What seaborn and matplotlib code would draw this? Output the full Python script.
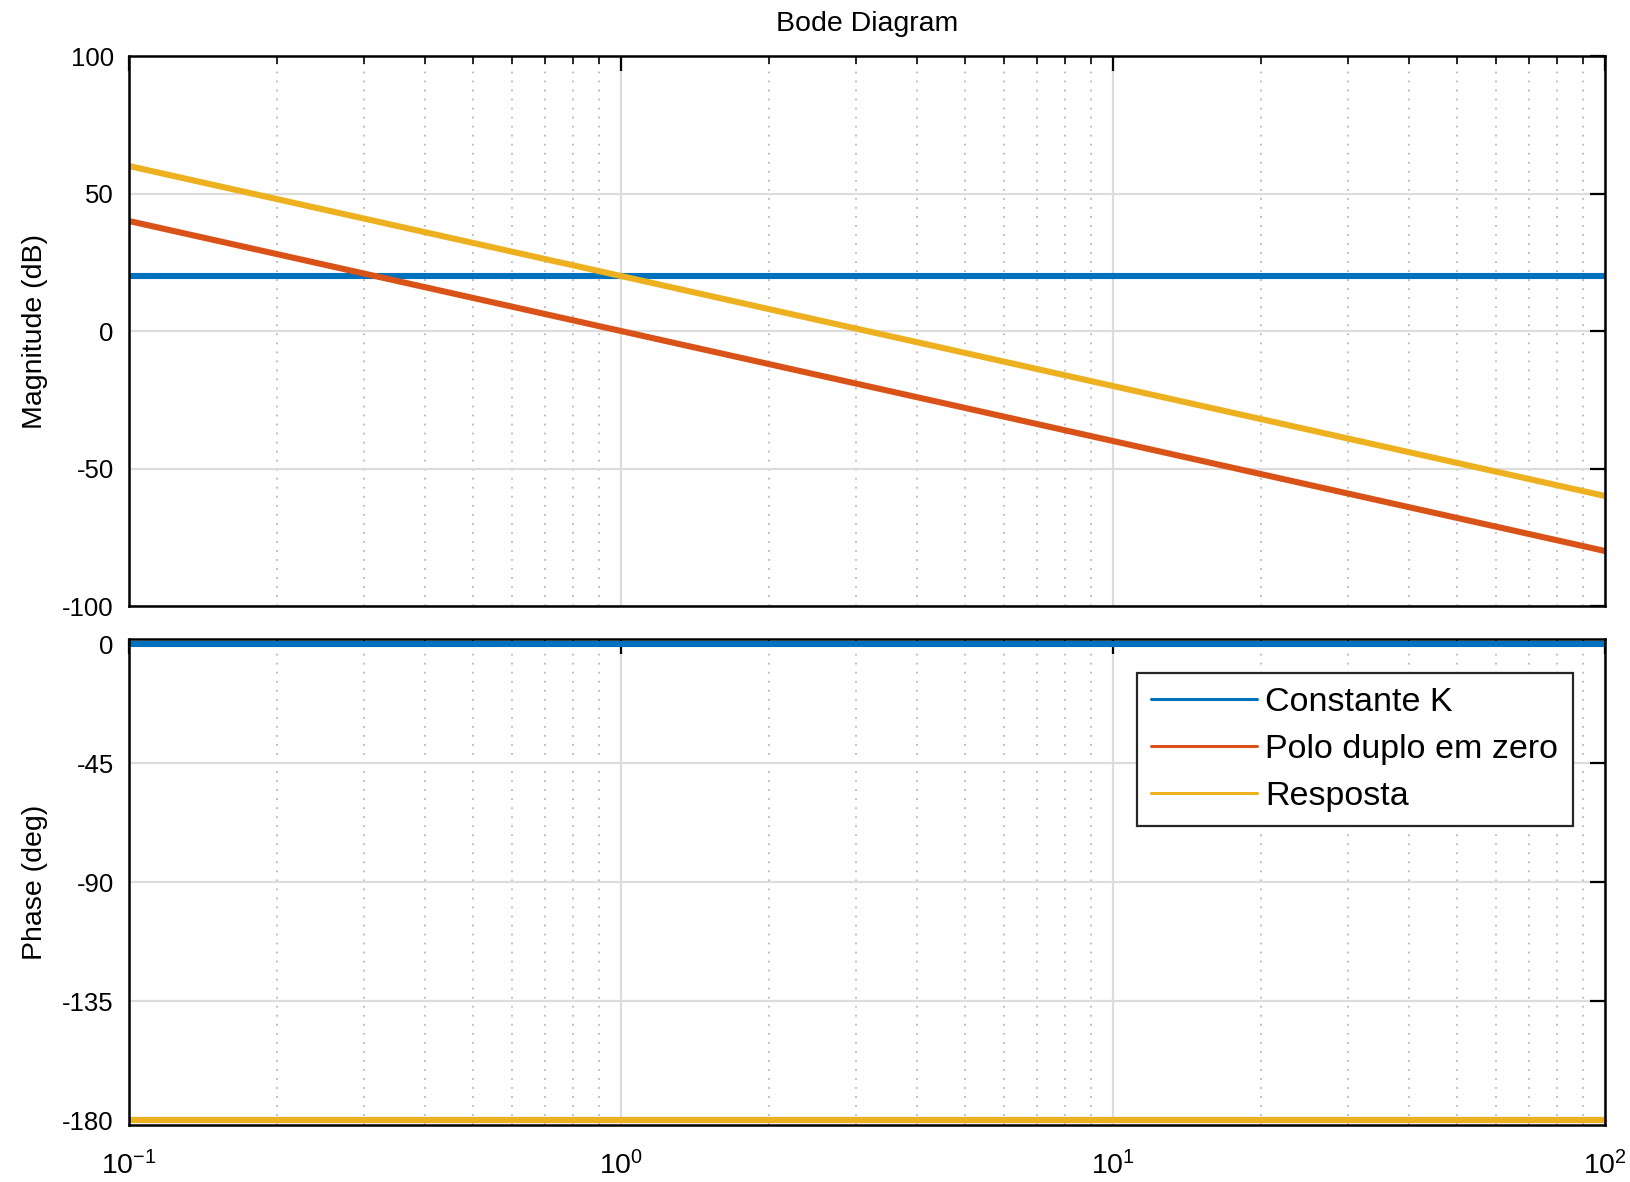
import numpy as np
import pandas as pd
import matplotlib
matplotlib.use("Agg")
import matplotlib.pyplot as plt
import matplotlib.ticker as mticker
import seaborn as sns

# ---- data ----
freq = [0.1, 1, 10, 100]                       # rad/s
series_names = ["Constante K", "Polo duplo em zero", "Resposta"]
mag_K = [20, 20, 20, 20]                       # dB
mag_polo = [40, 0, -40, -80]                   # dB
mag_resp = [60, 20, -20, -60]                  # dB
phase_K = [0, 0, 0, 0]                         # deg
phase_polo = [-180, -180, -180, -180]          # deg
phase_resp = [-180, -180, -180, -180]          # deg
colors = ["#0072BD", "#D95319", "#EDB120"]
mag_ticks = [-100, -50, 0, 50, 100]
phase_ticks = [-180, -135, -90, -45, 0]

sns.set_style("white")
plt.rcParams["font.family"] = ["Liberation Sans", "DejaVu Sans"]
plt.rcParams["mathtext.fontset"] = "custom"
plt.rcParams["mathtext.rm"] = "Liberation Sans"
plt.rcParams["mathtext.it"] = "Liberation Sans"
plt.rcParams["mathtext.default"] = "regular"
plt.rcParams["axes.unicode_minus"] = False
plt.rcParams["text.color"] = "black"
plt.rcParams["axes.labelcolor"] = "black"

df_mag = pd.DataFrame({
    "w": freq * 3,
    "val": mag_K + mag_polo + mag_resp,
    "series": [s for s in series_names for _ in freq],
})
df_ph = pd.DataFrame({
    "w": freq * 3,
    "val": phase_K + phase_polo + phase_resp,
    "series": [s for s in series_names for _ in freq],
})

fig = plt.figure(figsize=(16.31, 11.82), dpi=100)
ax1 = fig.add_axes([0.0791, 0.4873, 0.905, 0.4653])
ax2 = fig.add_axes([0.0791, 0.0482, 0.905, 0.4112])

pal = dict(zip(series_names, colors))
sns.lineplot(data=df_mag, x="w", y="val", hue="series", hue_order=series_names,
             palette=pal, ax=ax1, linewidth=4.4, legend=False)
sns.lineplot(data=df_ph, x="w", y="val", hue="series", hue_order=series_names,
             palette=pal, ax=ax2, linewidth=4.4, legend=True)

for ax in (ax1, ax2):
    ax.set_xscale("log")
    ax.set_xlim(0.1, 100)
    ax.xaxis.set_major_locator(mticker.LogLocator(base=10, numticks=10))
    ax.xaxis.set_minor_locator(mticker.LogLocator(base=10, subs=np.arange(2, 10), numticks=20))
    ax.xaxis.set_minor_formatter(mticker.NullFormatter())
    ax.grid(which="major", color="#dcdcdc", linewidth=1.6, linestyle="-")
    ax.grid(which="minor", axis="x", color="#b8b8b8", linewidth=1.3, linestyle=(0, (1, 4)))
    ax.set_axisbelow(True)
    ax.tick_params(which="major", direction="in", length=11, width=1.6,
                   top=True, right=True, labelsize=18.5, pad=11, colors="black")
    ax.tick_params(which="minor", direction="in", length=5.5, width=1.4,
                   top=True, right=False, left=False)
    for sp in ax.spines.values():
        sp.set_visible(True)
        sp.set_color("black")
        sp.set_linewidth(1.8)
    ax.set_xlabel("")

ax1.set_ylim(-100, 100)
ax1.set_yticks(mag_ticks)
ax1.tick_params(labelbottom=False)
ax1.set_ylabel("Magnitude (dB)", fontsize=20.5, color="black")
ax1.yaxis.set_label_coords(-0.055, 0.5)
ax1.set_title("Bode Diagram", fontsize=20.5, pad=18, color="black")

ax2.set_ylim(-181.9, 1.9)
ax2.set_yticks(phase_ticks)
ax2.set_ylabel("Phase (deg)", fontsize=20.5, color="black")
ax2.yaxis.set_label_coords(-0.055, 0.5)
ax2.tick_params(axis="x", pad=19, labelsize=20.5)

handles, labels = ax2.get_legend_handles_labels()
leg = ax2.legend(handles, labels, loc="upper right", bbox_to_anchor=(0.978, 0.930),
                 borderaxespad=0, fontsize=24.5, frameon=True, fancybox=False,
                 framealpha=1, edgecolor="#262626", borderpad=0.42,
                 handlelength=3.1, handletextpad=0.25, labelspacing=0.46)
leg.get_frame().set_linewidth(1.6)
for line in leg.get_lines():
    line.set_linewidth(2.2)
for t in leg.get_texts():
    t.set_color("black")

fig.savefig("out.png", dpi=100, facecolor="white")
